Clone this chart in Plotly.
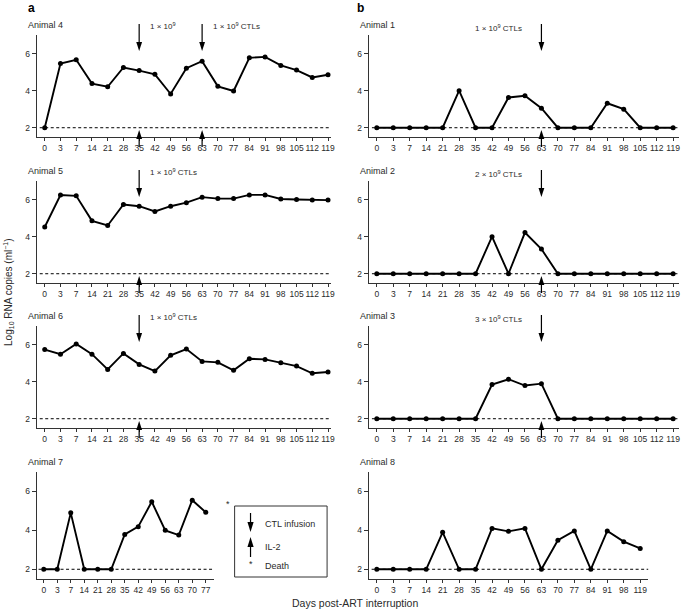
import plotly.graph_objects as go

W, H = 685, 610

# ---------------- data ----------------
days_full = [0, 3, 7, 14, 21, 28, 35, 42, 49, 56, 63, 70, 77, 84, 91, 98, 105, 112, 119]
days_a7 = [0, 3, 7, 14, 21, 28, 35, 42, 49, 56, 63, 70, 77]
days_a8 = [0, 3, 7, 14, 21, 28, 35, 42, 49, 56, 63, 70, 77, 84, 91, 98, 119]

animal4 = [2.0, 5.46, 5.66, 4.38, 4.21, 5.25, 5.08, 4.88, 3.82, 5.21, 5.59, 4.23, 3.98, 5.77, 5.82, 5.36, 5.11, 4.71, 4.86]
animal5 = [4.52, 6.24, 6.2, 4.85, 4.6, 5.73, 5.64, 5.36, 5.64, 5.83, 6.13, 6.05, 6.05, 6.25, 6.25, 6.03, 6.0, 5.97, 5.97]
animal6 = [5.73, 5.48, 6.03, 5.48, 4.66, 5.52, 4.93, 4.57, 5.42, 5.76, 5.09, 5.04, 4.61, 5.23, 5.2, 5.02, 4.84, 4.45, 4.52]
animal7 = [2.0, 2.0, 4.9, 2.0, 2.0, 2.0, 3.79, 4.19, 5.47, 4.0, 3.76, 5.55, 4.93]
animal1 = [2.0, 2.0, 2.0, 2.0, 2.0, 4.0, 2.0, 2.0, 3.63, 3.72, 3.05, 2.0, 2.0, 2.0, 3.32, 3.0, 2.0, 2.0, 2.0]
animal2 = [2.0, 2.0, 2.0, 2.0, 2.0, 2.0, 2.0, 4.0, 2.0, 4.22, 3.33, 2.0, 2.0, 2.0, 2.0, 2.0, 2.0, 2.0, 2.0]
animal3 = [2.0, 2.0, 2.0, 2.0, 2.0, 2.0, 2.0, 3.84, 4.13, 3.79, 3.89, 2.0, 2.0, 2.0, 2.0, 2.0, 2.0, 2.0, 2.0]
animal8 = [2.0, 2.0, 2.0, 2.0, 3.9, 2.0, 2.0, 4.1, 3.95, 4.1, 2.0, 3.49, 3.97, 2.0, 3.97, 3.42, 3.07]

detection_limit = 2.0
y_ticks = [2, 4, 6]

# CTL infusions: (animal, day, label, label side)
ctl_infusions = [
    ("Animal 4", 35, "1 × 10<sup>9</sup>", "right"),
    ("Animal 4", 63, "1 × 10<sup>9</sup> CTLs", "right"),
    ("Animal 5", 35, "1 × 10<sup>9</sup> CTLs", "right"),
    ("Animal 6", 35, "1 × 10<sup>9</sup> CTLs", "right"),
    ("Animal 1", 63, "1 × 10<sup>9</sup> CTLs", "left"),
    ("Animal 2", 63, "2 × 10<sup>9</sup> CTLs", "left"),
    ("Animal 3", 63, "3 × 10<sup>9</sup> CTLs", "left"),
]
il2_days = [("Animal 4", 35), ("Animal 4", 63), ("Animal 5", 35), ("Animal 6", 35),
            ("Animal 1", 63), ("Animal 2", 63), ("Animal 3", 63)]

# ---------------- layout geometry (pixels) ----------------
rows_px = [(35, 137), (181, 283), (326, 428), (472, 579)]
panel_specs = {
    "Animal 4": ("a", 0, days_full, animal4, (37, 333, 45, 15.83)),
    "Animal 5": ("a", 1, days_full, animal5, (37, 333, 45, 15.83)),
    "Animal 6": ("a", 2, days_full, animal6, (37, 333, 45, 15.83)),
    "Animal 7": ("a", 3, days_a7, animal7, (37, 215, 44, 13.58)),
    "Animal 1": ("b", 0, days_full, animal1, (371, 683, 379, 16.56)),
    "Animal 2": ("b", 1, days_full, animal2, (371, 683, 379, 16.56)),
    "Animal 3": ("b", 2, days_full, animal3, (371, 683, 379, 16.56)),
    "Animal 8": ("b", 3, days_a8, animal8, (371, 652, 379, 16.56)),
}
YR = [1.5, 7.0]

FONT = "Liberation Sans, Arial, sans-serif"
TXT = "#2a2a2a"

def px2x(p):
    return p / W

def px2y(p):
    return 1 - p / H

fig = go.Figure()
layout = {}
shapes = []
annotations = []
axis_ids = {}

for k, (name, (panel, row, days, vals, geo)) in enumerate(panel_specs.items()):
    n = k + 1
    xs = "" if n == 1 else str(n)
    xa, ya = "x" + xs, "y" + xs
    axis_ids[name] = (xa, ya, days, row)
    left, right, first, step = geo
    top, bot = rows_px[row]
    xr = [(left - first) / step, (right - first) / step]
    idx = list(range(len(days)))
    fig.add_trace(go.Scatter(
        x=idx, y=vals, mode="lines+markers", xaxis=xa, yaxis=ya,
        line=dict(color="black", width=1.9),
        marker=dict(color="black", size=5),
        showlegend=False, cliponaxis=False, hoverinfo="skip"))
    layout["xaxis" + xs] = dict(
        domain=[px2x(left), px2x(right)], anchor=ya, range=xr,
        tickmode="array", tickvals=idx, ticktext=[str(d) for d in days], tickangle=0,
        showline=True, linecolor="#333", linewidth=1.4,
        ticks="outside", ticklen=3, tickwidth=1, tickcolor="#333",
        tickfont=dict(size=8.5, color=TXT, family=FONT),
        showgrid=False, zeroline=False, fixedrange=True)
    layout["yaxis" + xs] = dict(
        domain=[px2y(bot), px2y(top)], anchor=xa, range=YR,
        tickmode="array", tickvals=y_ticks,
        showline=True, linecolor="#333", linewidth=1.4,
        ticks="outside", ticklen=4, tickwidth=1, tickcolor="#333",
        tickfont=dict(size=8.5, color=TXT, family=FONT),
        showgrid=False, zeroline=False, fixedrange=True)
    shapes.append(dict(type="line", xref=xa + " domain", yref=ya,
                       x0=0.01, x1=1, y0=detection_limit, y1=detection_limit,
                       line=dict(color="black", width=1, dash="3px,2.5px"), layer="below"))
    annotations.append(dict(text=name, xref="paper", yref="paper",
                            x=px2x(left - 11), y=px2y(top - 10), xanchor="left", yanchor="middle",
                            showarrow=False, font=dict(size=9, color=TXT, family=FONT)))


def arrow(xref, xanchor, yref, yanchor, direction, length, head=9, hw=2.9):
    s = 1 if direction == "down" else -1
    out = []
    out.append(dict(type="line", xref=xref, yref=yref, xsizemode="pixel", ysizemode="pixel",
                    xanchor=xanchor, yanchor=yanchor, x0=0, x1=0, y0=s * (head - 1), y1=s * length,
                    line=dict(color="black", width=1.2)))
    out.append(dict(type="path", xref=xref, yref=yref, xsizemode="pixel", ysizemode="pixel",
                    xanchor=xanchor, yanchor=yanchor,
                    path=f"M{-hw},{s*head} L{hw},{s*head} L0,0 Z",
                    fillcolor="black", line=dict(width=0)))
    return out

for name, day, label, side in ctl_infusions:
    xa, ya, days, row = axis_ids[name]
    top, bot = rows_px[row]
    i = days.index(day)
    tip_px = top + 16
    shapes += arrow(xa, i, "paper", px2y(tip_px), "down", 27)
    if side == "right":
        annotations.append(dict(text=label, xref=xa, yref="paper", x=i, y=px2y(tip_px - 25),
                                xshift=9, xanchor="left", yanchor="middle", showarrow=False,
                                font=dict(size=8, color=TXT, family=FONT)))
    else:
        annotations.append(dict(text=label, xref=xa, yref="paper", x=i, y=px2y(tip_px - 23),
                                xshift=-17, xanchor="right", yanchor="middle", showarrow=False,
                                font=dict(size=8, color=TXT, family=FONT)))

for name, day in il2_days:
    xa, ya, days, row = axis_ids[name]
    top, bot = rows_px[row]
    i = days.index(day)
    shapes += arrow(xa, i, "paper", px2y(bot - 7), "up", 17)

# death marker for Animal 7
annotations.append(dict(text="*", xref="paper", yref="paper", x=px2x(225), y=px2y(511),
                        showarrow=False, font=dict(size=9, color=TXT, family=FONT)))

# key box
shapes.append(dict(type="rect", xref="paper", yref="paper",
                   x0=px2x(236), x1=px2x(329), y0=px2y(577), y1=px2y(506),
                   line=dict(color="#333", width=1)))
shapes += arrow("paper", px2x(252), "paper", px2y(532), "down", 19, head=10, hw=3.1)
shapes += arrow("paper", px2x(252), "paper", px2y(537), "up", 20, head=10, hw=3.1)
for txt, ypx in [("CTL infusion", 524), ("IL-2", 547), ("Death", 566)]:
    annotations.append(dict(text=txt, xref="paper", yref="paper", x=px2x(265), y=px2y(ypx),
                            xanchor="left", yanchor="middle", showarrow=False,
                            font=dict(size=9, color=TXT, family=FONT)))
annotations.append(dict(text="*", xref="paper", yref="paper", x=px2x(252), y=px2y(571),
                        showarrow=False, font=dict(size=9, color=TXT, family=FONT)))

for letter, xpx in [("a", 26), ("b", 357)]:
    annotations.append(dict(text="<b>" + letter + "</b>", xref="paper", yref="paper",
                            x=px2x(xpx), y=px2y(8), xanchor="left", yanchor="middle",
                            showarrow=False, font=dict(size=12, color="black", family=FONT)))

annotations.append(dict(text="Days post-ART interruption", xref="paper", yref="paper",
                        x=px2x(357), y=px2y(603), xanchor="center", yanchor="middle",
                        showarrow=False, font=dict(size=10.5, color=TXT, family=FONT)))
annotations.append(dict(text="Log<sub>10</sub> RNA copies (ml<sup>−1</sup>)", xref="paper", yref="paper",
                        x=px2x(8), y=px2y(292), xanchor="center", yanchor="middle", textangle=-90,
                        showarrow=False, font=dict(size=10, color=TXT, family=FONT)))

fig.update_layout(
    width=W, height=H, margin=dict(l=0, r=0, t=0, b=0),
    paper_bgcolor="white", plot_bgcolor="white",
    font=dict(family=FONT, color=TXT),
    shapes=shapes, annotations=annotations, showlegend=False,
    **layout)

fig.write_html("out.html", config={"displayModeBar": False},
               post_script="document.body.style.margin='0';document.body.style.padding='0';")
